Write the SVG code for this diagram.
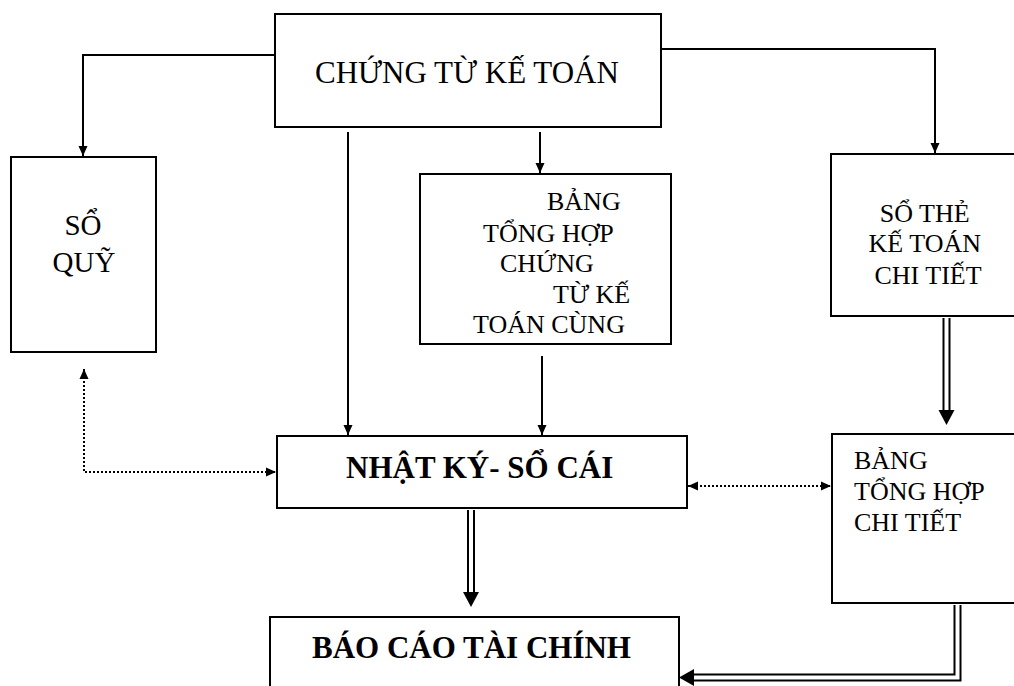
<svg xmlns="http://www.w3.org/2000/svg" width="1014" height="686" viewBox="0 0 1014 686">
<style>
.box{fill:#fff;stroke:#000;stroke-width:2}
.t{font-family:"Liberation Serif","Times New Roman",serif;fill:#000}
.b{font-weight:bold}
.ln{fill:none;stroke:#000;stroke-width:2}
.dot{fill:none;stroke:#000;stroke-width:2;stroke-dasharray:2 2}
.dbo{fill:none;stroke:#000;stroke-width:8}
.dbi{fill:none;stroke:#fff;stroke-width:4}
</style>
<defs>
<marker id="ah" markerUnits="userSpaceOnUse" markerWidth="10" markerHeight="10" refX="10" refY="5" orient="auto">
<path d="M0,0.5 L10,5 L0,9.5 z" fill="#000"/>
</marker>
<marker id="ahs" markerUnits="userSpaceOnUse" markerWidth="10" markerHeight="10" refX="10" refY="5" orient="auto-start-reverse">
<path d="M0,0.5 L10,5 L0,9.5 z" fill="#000"/>
</marker>
</defs>
<rect width="1014" height="686" fill="#fff"/>

<g id="connectors">
<path class="ln" d="M275,55 H83 V156" marker-end="url(#ah)"/>
<path class="ln" d="M661,49 H935 V153" marker-end="url(#ah)"/>
<path class="ln" d="M348,132 V435" marker-end="url(#ah)"/>
<path class="ln" d="M540,132 V173" marker-end="url(#ah)"/>
<path class="ln" d="M542,356 V435" marker-end="url(#ah)"/>
<path class="dot" d="M84,369 V472 H276" marker-start="url(#ahs)" marker-end="url(#ahs)"/>
<path class="dot" d="M688,486 H831" marker-start="url(#ahs)" marker-end="url(#ahs)"/>
<path class="dbo" d="M471,510 V594"/>
<path class="dbi" d="M471,510 V594"/>
<polygon points="463,592 479,592 471,607" fill="#000"/>
<path class="dbo" d="M946.5,318 V412"/>
<path class="dbi" d="M946.5,318 V412"/>
<polygon points="938.5,410 954.5,410 946.5,425" fill="#000"/>
<path class="dbo" d="M957.5,605 V677.5 H692"/>
<path class="dbi" d="M957.5,605 V677.5 H692"/>
<polygon points="694,669 694,686 679,677.5" fill="#000"/>
</g>

<g id="chung-tu-ke-toan">
<rect class="box" x="275" y="14" width="386" height="113"/>
<text class="t" x="315" y="83" font-size="31">CHỨNG TỪ KẾ TOÁN</text>
</g>

<g id="so-quy">
<rect class="box" x="11" y="157" width="145" height="195"/>
<text class="t" x="83" y="235" font-size="29" text-anchor="middle">SỔ</text>
<text class="t" x="84" y="272" font-size="29" text-anchor="middle">QUỸ</text>
</g>

<g id="bang-tong-hop-chung-tu">
<rect class="box" x="420" y="174" width="251" height="170"/>
<text class="t" font-size="26">
<tspan x="547" y="210">BẢNG</tspan>
<tspan x="483" y="242">TỔNG HỢP</tspan>
<tspan x="500" y="272">CHỨNG</tspan>
<tspan x="553" y="303">TỪ KẾ</tspan>
<tspan x="473" y="333">TOÁN CÙNG</tspan>
</text>
</g>

<g id="so-the-ke-toan-chi-tiet">
<rect class="box" x="831" y="154" width="200" height="162"/>
<text class="t" font-size="26" text-anchor="middle">
<tspan x="928" y="222">SỔ THẺ</tspan>
<tspan x="928" y="252">KẾ TOÁN</tspan>
<tspan x="928" y="284">CHI TIẾT</tspan>
</text>
</g>

<g id="nhat-ky-so-cai">
<rect class="box" x="277" y="436" width="410" height="72"/>
<text class="t b" x="346" y="478" font-size="31">NHẬT KÝ- SỔ CÁI</text>
</g>

<g id="bang-tong-hop-chi-tiet">
<rect class="box" x="832" y="434" width="200" height="169"/>
<text class="t" font-size="26">
<tspan x="854" y="469">BẢNG</tspan>
<tspan x="854" y="500">TỔNG HỢP</tspan>
<tspan x="854" y="531">CHI TIẾT</tspan>
</text>
</g>

<g id="bao-cao-tai-chinh">
<rect class="box" x="270" y="617" width="409" height="80"/>
<text class="t b" x="312" y="658" font-size="31">BÁO CÁO TÀI CHÍNH</text>
</g>
</svg>
